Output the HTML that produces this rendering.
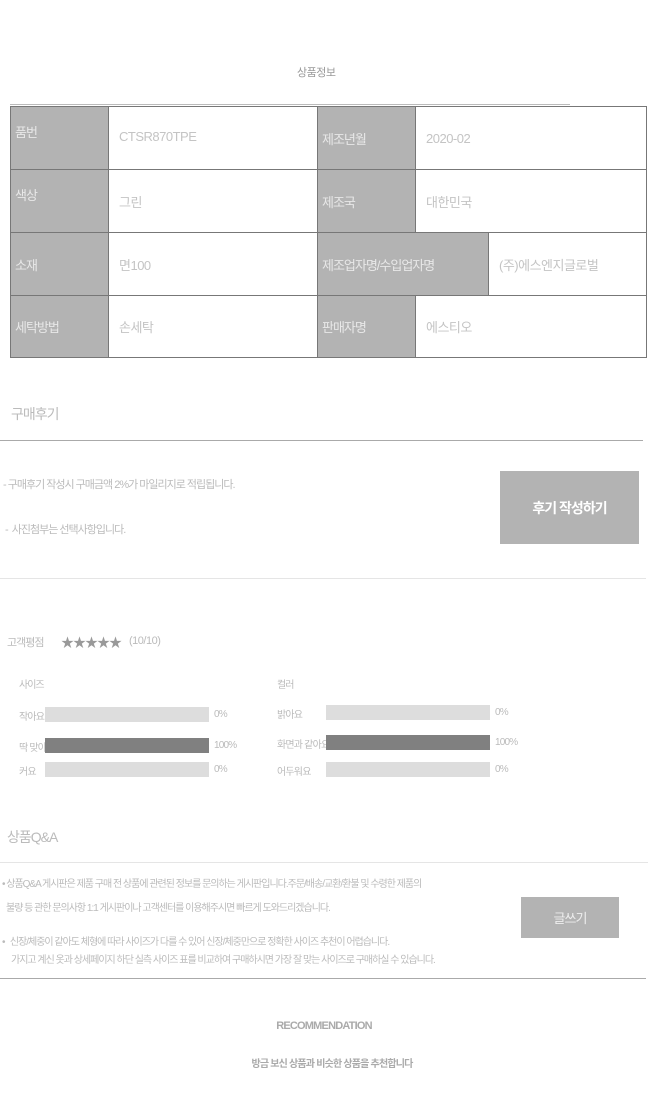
<!DOCTYPE html>
<html><head><meta charset="utf-8">
<style>
*{margin:0;padding:0;box-sizing:border-box}
body{width:656px;height:1095px;background:#fff;position:relative;overflow:hidden;font-family:"Liberation Sans","Noto Sans CJK KR",sans-serif;color:#bbb}
.a{position:absolute;white-space:nowrap}
.cell{position:absolute;border:1px solid #777;}
.lab{background:#b3b3b3;color:#e8e8e8;font-size:13px;padding-left:4px;display:flex;align-items:center;letter-spacing:-1px}
.val{background:#fff;color:#c4c4c4;font-size:13px;padding-left:10px;display:flex;align-items:center;letter-spacing:-0.5px}
.t{font-size:10px;letter-spacing:-0.8px;color:#bbb}
</style></head><body>
<div class="a" style="left:297px;top:64px;font-size:11px;color:#999;letter-spacing:-0.5px">상품정보</div>
<div class="a" style="left:10px;top:104px;width:560px;height:1px;background:#bbb"></div>
<div>
<div class="cell lab" style="left:10px;top:106px;width:99px;height:64px;padding-bottom:14px">품번</div>
<div class="cell val" style="left:108px;top:106px;width:210px;height:64px;padding-bottom:4px">CTSR870TPE</div>
<div class="cell lab" style="left:317px;top:106px;width:99px;height:64px">제조년월</div>
<div class="cell val" style="left:415px;top:106px;width:232px;height:64px">2020-02</div>

<div class="cell lab" style="left:10px;top:169px;width:99px;height:64px;padding-bottom:14px">색상</div>
<div class="cell val" style="left:108px;top:169px;width:210px;height:64px">그린</div>
<div class="cell lab" style="left:317px;top:169px;width:99px;height:64px">제조국</div>
<div class="cell val" style="left:415px;top:169px;width:232px;height:64px">대한민국</div>

<div class="cell lab" style="left:10px;top:232px;width:99px;height:64px">소재</div>
<div class="cell val" style="left:108px;top:232px;width:210px;height:64px">면100</div>
<div class="cell lab" style="left:317px;top:232px;width:172px;height:64px">제조업자명/수입업자명</div>
<div class="cell val" style="left:488px;top:232px;width:159px;height:64px">(주)에스엔지글로벌</div>

<div class="cell lab" style="left:10px;top:295px;width:99px;height:63px">세탁방법</div>
<div class="cell val" style="left:108px;top:295px;width:210px;height:63px">손세탁</div>
<div class="cell lab" style="left:317px;top:295px;width:99px;height:63px">판매자명</div>
<div class="cell val" style="left:415px;top:295px;width:232px;height:63px">에스티오</div>
</div>

<div class="a" style="left:11px;top:404px;font-size:14px;letter-spacing:-1px;color:#bbb">구매후기</div>
<div class="a" style="left:0;top:440px;width:643px;height:1px;background:#aaa"></div>
<div class="a" style="left:3px;top:476px;font-size:11px;letter-spacing:-1px">- 구매후기 작성시 구매금액 2%가 마일리지로 적립됩니다.</div>
<div class="a" style="left:5px;top:521px;font-size:11px;letter-spacing:-1px">-&nbsp; 사진첨부는 선택사항입니다.</div>
<div class="a" style="left:500px;top:471px;width:139px;height:73px;background:#b3b3b3;color:#fff;font-size:14px;font-weight:bold;letter-spacing:-1px;display:flex;align-items:center;justify-content:center">후기 작성하기</div>
<div class="a" style="left:0;top:578px;width:646px;height:1px;background:#e5e5e5"></div>

<div class="a" style="left:7px;top:634px;font-size:11px;letter-spacing:-1px">고객평점</div>
<div class="a" style="left:61px;top:632px;font-size:13px;color:#999;letter-spacing:-1px">★★★★★</div>
<div class="a" style="left:129px;top:635px;font-size:11px;letter-spacing:-0.5px">(10/10)</div>
<div class="a" style="left:19px;top:676px;font-size:10px;letter-spacing:-1px">사이즈</div>
<div class="a" style="left:277px;top:676px;font-size:10px;letter-spacing:-1px">컬러</div>
<div id="bars"></div>

<div class="a" style="left:7px;top:827px;font-size:14px;letter-spacing:-1px">상품Q&amp;A</div>
<div class="a" style="left:0;top:862px;width:648px;height:1px;background:#e5e5e5"></div>
<div class="a" style="left:2px;top:875px;font-size:10px;letter-spacing:-1px">• 상품Q&amp;A 게시판은 제품 구매 전 상품에 관련된 정보를 문의하는 게시판입니다.주문/배송/교환/환불 및 수령한 제품의</div>
<div class="a" style="left:6px;top:899px;font-size:10px;letter-spacing:-1px">불량 등 관한 문의사항 1:1 게시판이나 고객센터를 이용해주시면 빠르게 도와드리겠습니다.</div>
<div class="a" style="left:2px;top:933px;font-size:10px;letter-spacing:-1px">•&nbsp;&nbsp; 신장/체중이 같아도 체형에 따라 사이즈가 다를 수 있어 신장/체중만으로 정확한 사이즈 추천이 어렵습니다.</div>
<div class="a" style="left:11px;top:951px;font-size:10px;letter-spacing:-1px">가지고 계신 옷과 상세페이지 하단 실측 사이즈 표를 비교하여 구매하시면 가장 잘 맞는 사이즈로 구매하실 수 있습니다.</div>
<div class="a" style="left:521px;top:897px;width:98px;height:41px;background:#b3b3b3;color:#eee;font-size:13px;letter-spacing:-1px;display:flex;align-items:center;justify-content:center">글쓰기</div>
<div class="a" style="left:0;top:978px;width:646px;height:1px;background:#aaa"></div>

<div class="a" style="left:0;width:648px;text-align:center;top:1020px;font-size:11px;font-weight:bold;color:#aaa;letter-spacing:-0.8px">RECOMMENDATION</div>
<div class="a" style="left:0;width:664px;text-align:center;top:1055px;font-size:10px;font-weight:bold;color:#aaa;letter-spacing:-0.8px">방금 보신 상품과 비슷한 상품을 추천합니다</div>

<script>
var sizeCats=["작아요","딱 맞아요","커요"];
var sizeVals=[0,100,0];
var colorCats=["밝아요","화면과 같아요","어두워요"];
var colorVals=[0,100,0];
var c=document.getElementById('bars');
function drawGroup(cats,vals,gx,bx,tops,name){
  var bw=164;
  for(var i=0;i<cats.length;i++){
    var y=tops[i];
    var l=document.createElement('div');l.className='a t';
    
    
    l.style.left=gx+'px';l.style.top=(y+1)+'px';l.textContent=cats[i];c.appendChild(l);
    var bg=document.createElement('div');bg.className='a';
    
    
    bg.style.cssText='left:'+bx+'px;top:'+y+'px;width:'+bw+'px;height:15px;background:#ddd';c.appendChild(bg);
    var f=document.createElement('div');f.className='a';
    
    
    f.style.cssText='left:'+bx+'px;top:'+y+'px;width:'+(bw*vals[i]/100)+'px;height:15px;background:#808080';c.appendChild(f);
    var p=document.createElement('div');p.className='a t';
    
    
    p.style.left=(bx+bw+5)+'px';p.style.top=(y+2)+'px';p.textContent=vals[i]+'%';c.appendChild(p);
  }
}
drawGroup(sizeCats,sizeVals,19,45,[707,738,762],'size');
drawGroup(colorCats,colorVals,277,326,[705,735,762],'color');
</script>
</body></html>
